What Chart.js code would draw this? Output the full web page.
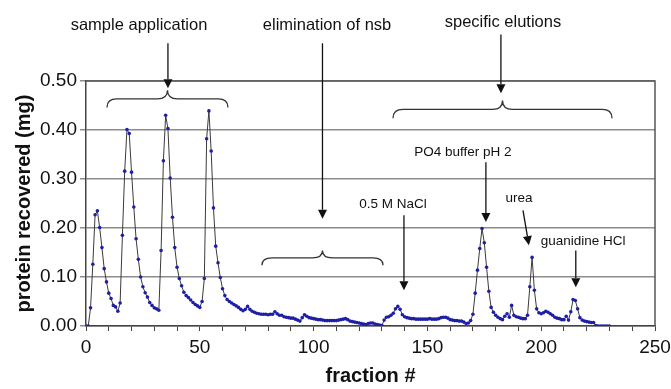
<!DOCTYPE html>
<html>
<head>
<meta charset="utf-8">
<script src="https://cdn.jsdelivr.net/npm/chart.js@4.4.1/dist/chart.umd.min.js"></script>
<style>
  html, body { margin: 0; padding: 0; background: #fff; }
  #wrap { width: 671px; height: 389px; }
</style>
</head>
<body>
<div id="wrap"><canvas id="elution" width="671" height="389"></canvas></div>
<script>
// protein recovered (mg) per fraction, starting at fraction 0
const protein = [
  0, 0, 0.037, 0.126, 0.227, 0.235, 0.201, 0.160, 0.117, 0.090,
  0.067, 0.056, 0.042, 0.039, 0.030, 0.047, 0.185, 0.316, 0.401, 0.393,
  0.314, 0.243, 0.178, 0.136, 0.100, 0.080, 0.068, 0.059, 0.048, 0.042,
  0.037, 0.035, 0.032, 0.154, 0.337, 0.430, 0.403, 0.302, 0.222, 0.160,
  0.120, 0.097, 0.082, 0.069, 0.062, 0.058, 0.053, 0.048, 0.044, 0.041,
  0.038, 0.050, 0.097, 0.382, 0.439, 0.357, 0.241, 0.163, 0.129, 0.099,
  0.076, 0.062, 0.054, 0.050, 0.047, 0.044, 0.041, 0.038, 0.034, 0.031,
  0.034, 0.040, 0.034, 0.030, 0.028, 0.026, 0.025, 0.024, 0.024, 0.024,
  0.023, 0.024, 0.024, 0.029, 0.025, 0.022, 0.022, 0.019, 0.018, 0.017,
  0.016, 0.016, 0.014, 0.012, 0.010, 0.017, 0.023, 0.020, 0.017, 0.016,
  0.015, 0.014, 0.013, 0.013, 0.012, 0.011, 0.011, 0.011, 0.011, 0.011,
  0.011, 0.012, 0.013, 0.014, 0.015, 0.013, 0.010, 0.009, 0.008, 0.007,
  0.006, 0.005, 0.004, 0.003, 0.005, 0.006, 0.006, 0.004, 0.003, 0.002,
  0.001, 0.012, 0.018, 0.019, 0.022, 0.026, 0.035, 0.040, 0.034, 0.023,
  0.019, 0.017, 0.016, 0.015, 0.015, 0.014, 0.014, 0.014, 0.014, 0.014,
  0.014, 0.015, 0.014, 0.014, 0.014, 0.015, 0.017, 0.018, 0.018, 0.016,
  0.013, 0.012, 0.011, 0.011, 0.010, 0.010, 0.008, 0.005, 0.006, 0.011,
  0.024, 0.067, 0.114, 0.158, 0.199, 0.170, 0.120, 0.071, 0.038, 0.028,
  0.022, 0.018, 0.015, 0.013, 0.020, 0.025, 0.018, 0.042, 0.022, 0.019,
  0.018, 0.016, 0.015, 0.015, 0.022, 0.080, 0.140, 0.073, 0.035, 0.027,
  0.025, 0.027, 0.030, 0.028, 0.025, 0.022, 0.018, 0.016, 0.015, 0.013,
  0.013, 0.020, 0.012, 0.029, 0.054, 0.052, 0.035, 0.017, 0.012, 0.010,
  0.009, 0.008, 0.007, 0.007, 0.001, 0, 0, 0, 0, 0,
  0
];
// fraction numbers are consecutive, one per value
const fractions = protein.map((_, i) => i);

const xTickLabels = [0, 50, 100, 150, 200, 250];
const yTickLabels = ['0.00', '0.10', '0.20', '0.30', '0.40', '0.50'];

// annotation texts, arrows and braces, in data units (fraction, mg)
const labels = [
  { text: 'sample application', x: 23.3, y: 0.613, size: 16.5 },
  { text: 'elimination of nsb', x: 105.9, y: 0.613, size: 16.5 },
  { text: 'specific elutions', x: 183.2, y: 0.619, size: 16.5 },
  { text: '0.5 M NaCl', x: 134.9, y: 0.248, size: 13.5 },
  { text: 'PO4 buffer pH 2', x: 165.6, y: 0.354, size: 13.5 },
  { text: 'urea', x: 190.2, y: 0.261, size: 13.5 },
  { text: 'guanidine HCl', x: 218.4, y: 0.173, size: 13.5 }
];
const arrows = [
  { x1: 36.0, y1: 0.577, x2: 36.0, y2: 0.485 },
  { x1: 103.9, y1: 0.577, x2: 103.9, y2: 0.219 },
  { x1: 182.3, y1: 0.595, x2: 182.3, y2: 0.475 },
  { x1: 139.7, y1: 0.226, x2: 139.7, y2: 0.073 },
  { x1: 175.7, y1: 0.334, x2: 175.7, y2: 0.212 },
  { x1: 192.0, y1: 0.236, x2: 194.6, y2: 0.165 },
  { x1: 215.2, y1: 0.154, x2: 215.2, y2: 0.079 }
];
const braces = [
  { from: 9.2, to: 62.4, tip: 0.481, end: 0.446 },
  { from: 77.3, to: 130.5, tip: 0.154, end: 0.124 },
  { from: 134.9, to: 231.1, tip: 0.460, end: 0.424 }
];

const FONT = '"Liberation Sans", Arial, sans-serif';

const annotate = {
  id: 'annotate',
  afterDraw(chart) {
    const { ctx, scales: { x, y }, chartArea: area } = chart;
    ctx.save();

    // plot frame
    ctx.strokeStyle = '#555';
    ctx.lineWidth = 1.5;
    ctx.beginPath();
    ctx.moveTo(area.left, area.top);
    ctx.lineTo(area.right, area.top);
    ctx.lineTo(area.right, area.bottom);
    ctx.stroke();

    ctx.fillStyle = '#111';
    ctx.textAlign = 'center';
    ctx.textBaseline = 'middle';
    labels.forEach(l => {
      ctx.font = l.size + 'px ' + FONT;
      ctx.fillText(l.text, x.getPixelForValue(l.x), y.getPixelForValue(l.y));
    });

    ctx.strokeStyle = '#111';
    ctx.lineWidth = 1.3;
    arrows.forEach(a => {
      const x1 = x.getPixelForValue(a.x1), y1 = y.getPixelForValue(a.y1);
      const x2 = x.getPixelForValue(a.x2), y2 = y.getPixelForValue(a.y2);
      const ang = Math.atan2(y2 - y1, x2 - x1);
      const len = 9, half = 4.5;
      const bx = x2 - len * Math.cos(ang), by = y2 - len * Math.sin(ang);
      ctx.beginPath();
      ctx.moveTo(x1, y1);
      ctx.lineTo(bx, by);
      ctx.stroke();
      ctx.beginPath();
      ctx.moveTo(x2, y2);
      ctx.lineTo(bx + half * Math.sin(ang), by - half * Math.cos(ang));
      ctx.lineTo(bx - half * Math.sin(ang), by + half * Math.cos(ang));
      ctx.closePath();
      ctx.fill();
    });

    ctx.strokeStyle = '#333';
    ctx.lineWidth = 1.3;
    braces.forEach(b => {
      const x0 = x.getPixelForValue(b.from), x1 = x.getPixelForValue(b.to);
      const xc = (x0 + x1) / 2;
      const yt = y.getPixelForValue(b.tip), ye = y.getPixelForValue(b.end);
      const ym = (yt + ye) / 2;
      const r = 10;
      ctx.beginPath();
      ctx.moveTo(x0, ye);
      ctx.quadraticCurveTo(x0, ym, x0 + r, ym);
      ctx.lineTo(xc - r, ym);
      ctx.quadraticCurveTo(xc, ym, xc, yt);
      ctx.quadraticCurveTo(xc, ym, xc + r, ym);
      ctx.lineTo(x1 - r, ym);
      ctx.quadraticCurveTo(x1, ym, x1, ye);
      ctx.stroke();
    });
    ctx.restore();
  }
};

new Chart(document.getElementById('elution'), {
  type: 'line',
  data: {
    datasets: [{
      data: fractions.map((f, i) => ({ x: f, y: protein[i] })),
      borderColor: '#3a3a3a',
      borderWidth: 1,
      tension: 0,
      pointRadius: 1.8,
      pointBackgroundColor: '#1f1fa6',
      pointBorderWidth: 0,
      pointStyle: 'circle'
    }]
  },
  options: {
    responsive: false,
    animation: false,
    devicePixelRatio: 1,
    layout: { padding: { left: 0, top: 81, right: 16, bottom: 0 } },
    plugins: { legend: { display: false }, tooltip: { enabled: false } },
    scales: {
      x: {
        type: 'linear',
        min: 0,
        max: 250,
        afterFit: s => { s.height = 63; s.paddingRight = 0; s.paddingLeft = 0; },
        afterBuildTicks: s => {
          s.ticks = [];
          for (let v = 0; v <= 250; v += 10) s.ticks.push({ value: v });
        },
        ticks: {
          autoSkip: false,
          maxRotation: 0,
          padding: 5,
          color: '#111',
          font: { family: FONT, size: 19 },
          callback: v => xTickLabels.includes(v) ? String(v) : ''
        },
        grid: { drawOnChartArea: false, tickLength: 5, color: '#444', lineWidth: 1 },
        border: { color: '#444', width: 1.5 },
        title: {
          display: true,
          text: 'fraction #',
          color: '#111',
          font: { family: FONT, size: 20, weight: 'bold' },
          padding: { top: 0, bottom: 1 }
        }
      },
      y: {
        min: 0,
        max: 0.5,
        afterFit: s => { s.width = 86; },
        ticks: {
          stepSize: 0.1,
          padding: 3,
          color: '#111',
          font: { family: FONT, size: 19 },
          callback: (v, i) => yTickLabels[i]
        },
        grid: { color: '#8c8c8c', lineWidth: 1.5, tickLength: 6 },
        border: { color: '#444', width: 1.5 },
        title: {
          display: true,
          text: 'protein recovered (mg)',
          color: '#111',
          font: { family: FONT, size: 20, weight: 'bold' },
          padding: { top: 12, bottom: 0 }
        }
      }
    }
  },
  plugins: [annotate]
});
</script>
</body>
</html>
